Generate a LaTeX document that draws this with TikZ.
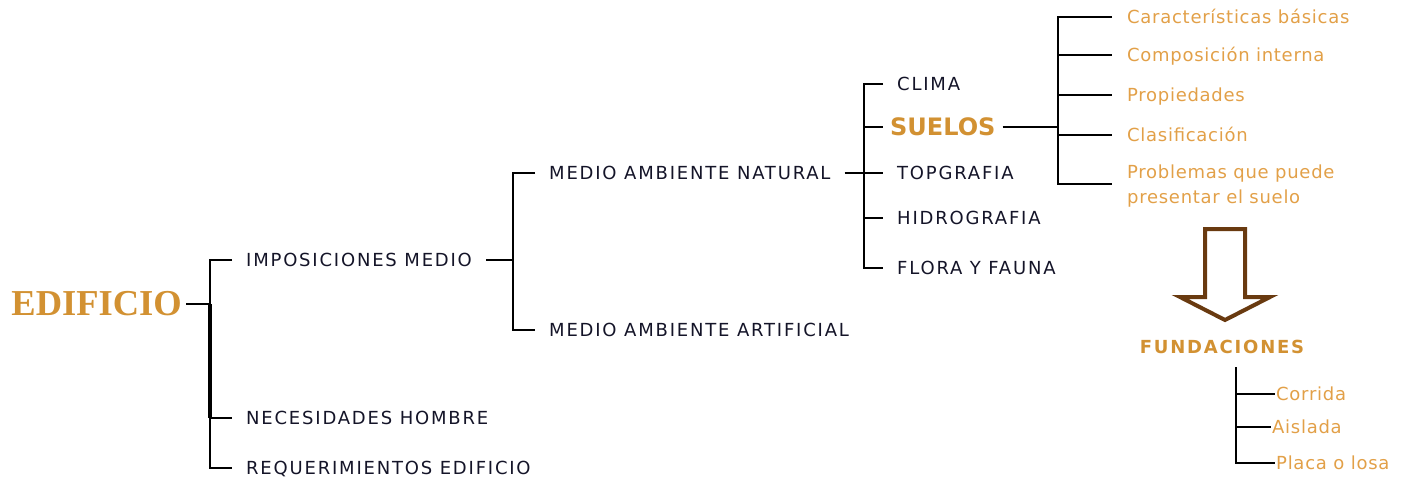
\documentclass[tikz,border=0pt]{standalone}
\usepackage{fontspec}
\setmainfont{DejaVu Sans}
\newfontfamily\capsfont[LetterSpace=10]{DejaVu Sans}
\newfontfamily\notefont[LetterSpace=4]{DejaVu Sans}
\newfontfamily\titlefont{Liberation Serif}
\usetikzlibrary{positioning, calc}

\definecolor{gold}{RGB}{210,145,50}
\definecolor{softgold}{RGB}{226,160,72}
\definecolor{ink}{RGB}{20,20,40}
\definecolor{arrowbrown}{RGB}{105,58,16}

\begin{document}
\begin{tikzpicture}[
    x=1pt, y=-1pt,
    item/.style={anchor=west, inner xsep=14pt, inner ysep=2pt, text height=13pt, text depth=0pt, font=\capsfont\fontsize{18}{20}\selectfont, text=ink},
    note/.style={anchor=west, inner xsep=15pt, inner ysep=2pt, text height=13pt, text depth=0pt, font=\notefont\fontsize{18}{25}\selectfont, text=softgold},
    leaf/.style={note, inner xsep=1pt},
    title/.style={font=\titlefont\bfseries\fontsize{36.5}{40}\selectfont, text=gold},
    tree/.style={line width=2.2pt, draw=black}
]
    \useasboundingbox (0,0) rectangle (1410,481);

    % Root
    \node[title, anchor=east, inner xsep=4pt] (edif) at (186,304) {EDIFICIO};

    % First level
    \node[item] (imp) at (232,260) {IMPOSICIONES MEDIO};
    \node[item] (nec) at (232,418) {NECESIDADES HOMBRE};
    \node[item] (req) at (232,468) {REQUERIMIENTOS EDIFICIO};

    % Medio ambiente
    \node[item] (nat) at (535,173) {MEDIO AMBIENTE NATURAL};
    \node[item] (art) at (535,330) {MEDIO AMBIENTE ARTIFICIAL};

    % Natural
    \node[item] (clima) at (883,84) {CLIMA};
    \node[item, inner xsep=7pt, text height=17pt, font=\bfseries\fontsize{24}{26}\selectfont, text=gold] (suelos) at (883,127) {SUELOS};
    \node[item] (topo) at (883,173) {TOPGRAFIA};
    \node[item] (hidro) at (883,218) {HIDROGRAFIA};
    \node[item] (flora) at (883,268) {FLORA Y FAUNA};

    % Suelos
    \node[note] (car) at (1112,17) {Características básicas};
    \node[note] (comp) at (1112,55) {Composición interna};
    \node[note] (prop) at (1112,95) {Propiedades};
    \node[note] (clas) at (1112,135) {Clasificación};
    \node[note, anchor=north west, align=left, text height=, text depth=] (prob) at (1112,163) {Problemas que puede\\presentar el suelo};

    % Fundaciones
    \node[font=\capsfont\bfseries\fontsize{18}{20}\selectfont, text=gold] (fund) at (1222,347) {FUNDACIONES};
    \node[leaf] (corr) at (1275,394) {Corrida};
    \node[leaf] (ais) at (1271,427) {Aislada};
    \node[leaf] (placa) at (1275,463) {Placa o losa};

    % Brackets
    \coordinate (edif-j) at (210,304);
    \draw[tree] (edif.east) -- (edif-j);
    \draw[tree] (imp.west) -| (edif-j) |- (req.west);
    \draw[tree] (edif-j |- nec) -- (nec.west);
    \draw[line width=3.4pt] (edif-j) -- (edif-j |- nec);

    \coordinate (imp-j) at (513,260);
    \draw[tree] (imp.east) -- (imp-j);
    \draw[tree] (nat.west) -| (imp-j) |- (art.west);

    \coordinate (nat-j) at (864,173);
    \draw[tree] (nat.east) -- (topo.west);
    \draw[tree] (clima.west) -| (nat-j) |- (flora.west);
    \draw[tree] (nat-j |- suelos) -- (suelos.west);
    \draw[tree] (nat-j |- hidro) -- (hidro.west);

    \coordinate (suelos-j) at (1058,127);
    \coordinate (prob-in) at (1112,184);
    \draw[tree] (suelos.east) -- (suelos-j);
    \draw[tree] (car.west) -| (suelos-j) |- (prob-in);
    \foreach \n in {comp, prop, clas}
        \draw[tree] (suelos-j |- \n) -- (\n.west);

    \coordinate (fund-j) at (1236,367);
    \draw[tree] (fund-j) |- (placa.west);
    \foreach \n in {corr, ais}
        \draw[tree] (fund-j |- \n) -- (\n.west);

    % Big arrow down to fundaciones
    \draw[line width=4pt, draw=arrowbrown, fill=white, line join=miter]
        (1205,229) -- (1245,229) -- (1245,297) -- (1270,297) -- (1225,320)
        -- (1180,297) -- (1205,297) -- cycle;
\end{tikzpicture}
\end{document}
